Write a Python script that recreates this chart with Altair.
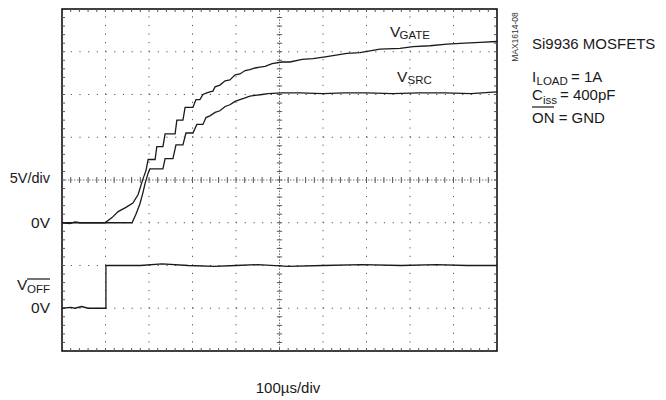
import altair as alt
import numpy as np
import pandas as pd

# ---- data (time in µs, 100 µs/div; voltage in V, 5 V/div) ----
gate_t = [0, 18, 30, 41, 64, 99, 115, 129, 147, 163, 175, 186, 193, 198, 214, 218, 232, 237, 260, 264,
          278, 283, 301, 308, 317, 324, 333, 340, 347, 352, 363, 375, 386, 398, 409, 421, 432, 444, 455,
          467, 483, 506, 524, 552, 577, 605, 655, 685, 731, 777, 807, 846, 885, 926, 961, 1000]
gate_v = [0, -0.1, 0.1, 0, 0, 0, 0.6, 1.3, 1.8, 2.3, 3.3, 5.1, 6.1, 7.4, 7.4, 8.9, 8.9, 10.4, 10.4, 12.0,
          12.0, 13.5, 13.5, 14.4, 14.4, 15.0, 15.2, 15.3, 15.4, 15.9, 16.1, 16.6, 16.7, 17.3, 17.4, 17.8,
          17.9, 18.1, 18.2, 18.3, 18.6, 18.8, 18.8, 19.1, 19.2, 19.4, 19.8, 19.9, 20.3, 20.4, 20.6, 20.7,
          20.9, 21.0, 21.1, 21.2]

src_t = [0, 87, 161, 170, 179, 186, 191, 198, 202, 232, 237, 255, 262, 278, 285, 301, 310, 324, 331, 340,
         352, 363, 375, 386, 398, 409, 421, 432, 444, 460, 474, 506, 547, 600, 650, 700, 760, 820, 880, 940, 1000]
src_v = [0, 0, 0, 1.0, 2.2, 3.5, 4.6, 5.8, 6.3, 6.3, 7.5, 7.5, 9.1, 9.1, 10.5, 10.5, 11.5, 11.5, 12.3, 12.5,
         12.9, 13.1, 13.6, 13.8, 14.2, 14.4, 14.6, 14.8, 14.9, 15.0, 15.1, 15.2, 15.2, 15.1, 15.2, 15.2,
         15.1, 15.2, 15.2, 15.1, 15.3]

off_t = [0, 20, 30, 45, 60, 101, 101, 180, 230, 290, 350, 400, 450, 520, 600, 690, 780, 860, 930, 1000]
off_v = [0, 0.1, 0, 0.2, 0, 0, 5.0, 5.0, 5.2, 5.0, 4.9, 5.0, 5.1, 4.9, 5.0, 5.1, 5.0, 5.1, 5.0, 5.0]

VOLTS_PER_DIV = 5.0
TOP_ZERO_DIV = 3   # 0 V reference of VGATE / VSRC
BOT_ZERO_DIV = 1   # 0 V reference of VOFF


def trace(name, t, v, zero):
    return pd.DataFrame({"t": t, "v": v, "series": name, "zero": zero, "i": list(range(len(t)))})


traces = pd.concat([
    trace("VGATE", gate_t, gate_v, TOP_ZERO_DIV),
    trace("VSRC", src_t, src_v, TOP_ZERO_DIV),
    trace("VOFF", off_t, off_v, BOT_ZERO_DIV),
], ignore_index=True)

W, H = 435, 342
FONT = "Liberation Sans, Arial"
INK = "#1a1a1a"

xs = alt.Scale(domain=[0, 1000], nice=False, zero=False)
ys = alt.Scale(domain=[0, 8], nice=False, zero=False)


def X(f):
    return alt.X(f, type="quantitative", scale=xs, axis=None)


def Y(f):
    return alt.Y(f, type="quantitative", scale=ys, axis=None)


# ---- graticule ----
vgrid = pd.DataFrame({"x": [100 * k for k in range(1, 10) if k != 5]})
vgrid["y"], vgrid["y2"] = 0, 8
hgrid = pd.DataFrame({"y": [k for k in range(1, 8) if k != 4]})
hgrid["x"], hgrid["x2"] = 0, 1000

vgrid_l = alt.Chart(vgrid).mark_rule(color="#555", strokeWidth=1, strokeDash=[1.2, 7.35]).encode(
    x=X("x"), y=Y("y"), y2="y2")
hgrid_l = alt.Chart(hgrid).mark_rule(color="#555", strokeWidth=1, strokeDash=[1.2, 7.5]).encode(
    y=Y("y"), x=X("x"), x2="x2")

centre = pd.DataFrame({"x": [500, 0], "x2": [500, 1000], "y": [0, 4], "y2": [8, 4]})
centre_l = alt.Chart(centre).mark_rule(color="#777", strokeWidth=1, strokeDash=[1.5, 1.5]).encode(
    x=X("x"), x2="x2", y=Y("y"), y2="y2")

# minor ticks every 1/5 division on border and centre lines
ticks = []
for yy in np.arange(0.2, 8, 0.2):
    ticks.append((0, 7, yy, yy))
    ticks.append((993, 1000, yy, yy))
    ticks.append((494, 506, yy, yy))
for xx in np.arange(20, 1000, 20):
    ticks.append((xx, xx, 0, 0.07))
    ticks.append((xx, xx, 7.93, 8))
    ticks.append((xx, xx, 3.93, 4.07))
ticks = pd.DataFrame(ticks, columns=["x", "x2", "y", "y2"])
ticks_l = alt.Chart(ticks).mark_rule(color="#555", strokeWidth=1).encode(
    x=X("x"), x2="x2", y=Y("y"), y2="y2")

# ---- traces ----
lines = alt.Chart(traces).transform_calculate(
    d=f"datum.zero + datum.v / {VOLTS_PER_DIV}"
).mark_line(color=INK, strokeWidth=1.3, interpolate="linear").encode(
    x=X("t"), y=Y("d"), detail="series:N", order="i:Q")


# ---- annotations ----
def txt(s, x, y, size=15, align="left", baseline="alphabetic", angle=0, color=INK):
    return alt.Chart(pd.DataFrame({"s": [s]})).mark_text(
        font=FONT, fontSize=size, align=align, baseline=baseline, angle=angle, color=color
    ).encode(x=alt.value(x), y=alt.value(y), text="s:N")


def ydiv(d):
    return H - d * H / 8


def bar(x1, x2, y):
    return alt.Chart(pd.DataFrame({"a": [0]})).mark_rule(color=INK, strokeWidth=1.2).encode(
        x=alt.value(x1), x2=alt.value(x2), y=alt.value(y))


SUB = 11.5
notes = [
    txt("5V/div", -12, 170, align="right", baseline="middle", size=14.5),
    txt("0V", -12, ydiv(TOP_ZERO_DIV), align="right", baseline="middle", size=15.5),
    txt("V", -45, 281, size=15.5), txt("OFF", -35, 284, size=SUB), bar(-35, -12, 270),
    txt("0V", -12, ydiv(BOT_ZERO_DIV), align="right", baseline="middle", size=15.5),
    txt("V", 328, 28, size=15.5), txt("GATE", 337.5, 30, size=SUB),
    txt("V", 335, 73, size=15.5), txt("SRC", 345.5, 75, size=SUB),
    txt("100µs/div", 226, 384, align="center"),
    txt("MAX1614-08", 453, 28, size=8.5, align="center", baseline="middle", angle=270, color="#333"),
    txt("Si9936 MOSFETS", 470, 40),
    txt("I", 470, 73), txt("LOAD", 474.5, 76, size=SUB), txt("= 1A", 509, 73),
    txt("C", 470, 91), txt("iss", 481, 95, size=SUB), txt("= 400pF", 498, 91),
    bar(470, 492, 98), txt("ON = GND", 470, 114),
]

chart = alt.layer(vgrid_l, hgrid_l, centre_l, ticks_l, lines, *notes).properties(
    width=W, height=H,
    autosize=alt.AutoSizeParams(type="none"),
    padding={"left": 54, "top": 1, "right": 161, "bottom": 46},
    background="white",
).configure_view(stroke="black", strokeWidth=1.5)

chart.save("out.html", embed_options={"renderer": "svg", "actions": False})
